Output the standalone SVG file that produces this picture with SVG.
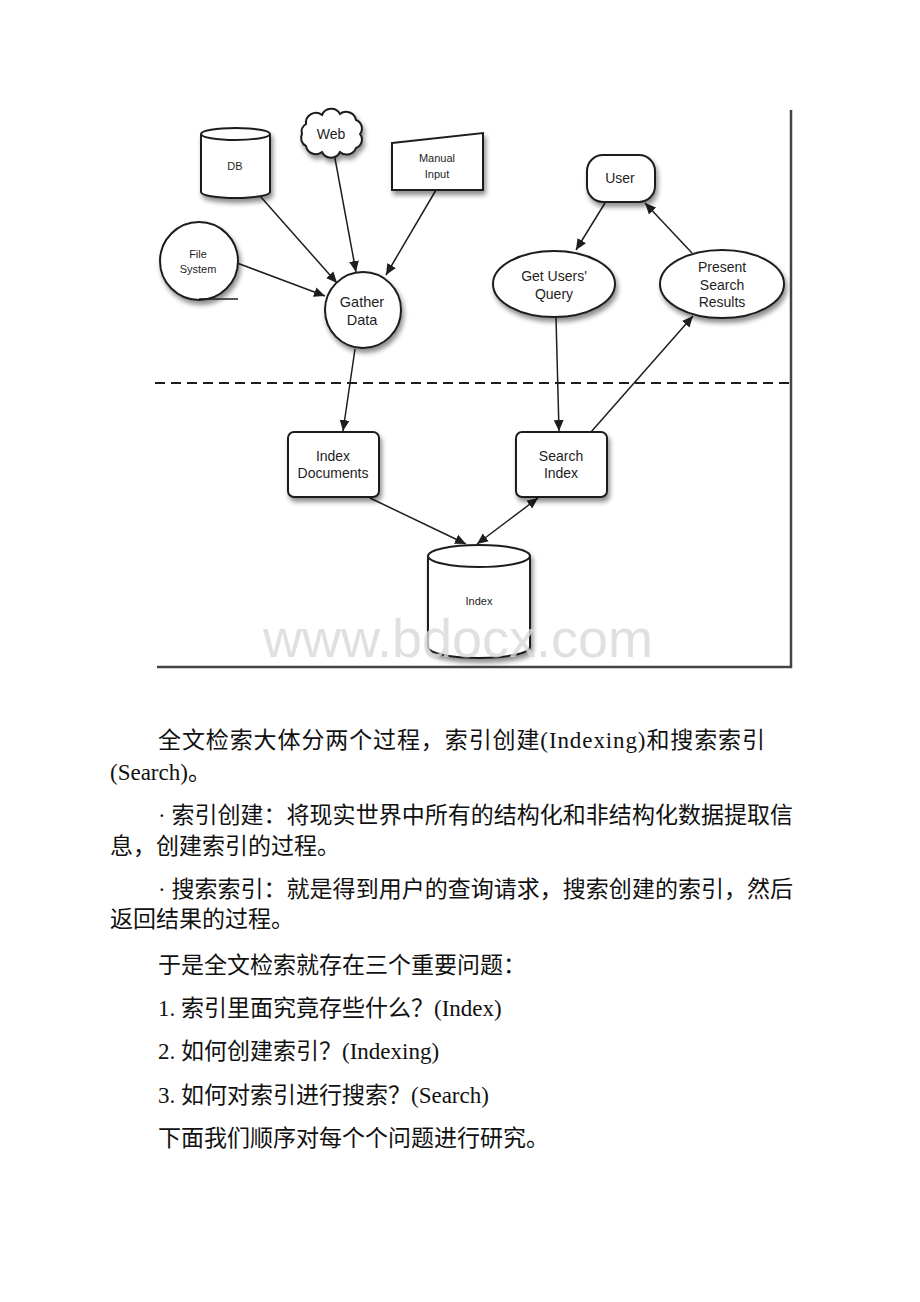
<svg xmlns="http://www.w3.org/2000/svg" width="920" height="1302" viewBox="0 0 920 1302">
<defs>
<style>
.n{fill:#fff;stroke:#1e1e1e;stroke-width:2;filter:url(#sh)}
.l{font-family:"Liberation Sans",Arial,sans-serif;fill:#1e1e1e;text-anchor:middle}
.c{stroke:#1e1e1e;stroke-width:1.5;fill:none}
.t{font-family:"Liberation Serif","Noto Sans CJK SC",serif;font-size:23px;fill:#111}
</style>
<filter id="sh" x="-30%" y="-30%" width="160%" height="160%">
<feGaussianBlur in="SourceAlpha" stdDeviation="2.5"/>
<feOffset dx="2" dy="4" result="b"/>
<feComponentTransfer><feFuncA type="linear" slope="0.45"/></feComponentTransfer>
<feMerge><feMergeNode/><feMergeNode in="SourceGraphic"/></feMerge>
</filter>
<marker id="ah" viewBox="0 0 10 10" refX="10" refY="5" markerWidth="11" markerHeight="11" markerUnits="userSpaceOnUse" orient="auto-start-reverse">
<path d="M0,0.5 L10,5 L0,9.5 z" fill="#1e1e1e"/>
</marker>
</defs>
<rect width="920" height="1302" fill="#fff"/>

<g id="frame">
<path d="M791,110 L791,667 L157,667" fill="none" stroke="#444" stroke-width="2.5"/>
<line x1="155" y1="383" x2="791" y2="383" stroke="#1e1e1e" stroke-width="1.8" stroke-dasharray="10,6"/>
</g>

<g id="connectors">
<line class="c" x1="260" y1="196" x2="337" y2="283" marker-end="url(#ah)"/>
<line class="c" x1="334" y1="153" x2="356" y2="272" marker-end="url(#ah)"/>
<line class="c" x1="436" y1="190" x2="386" y2="275" marker-end="url(#ah)"/>
<line class="c" x1="237" y1="263" x2="325" y2="296" marker-end="url(#ah)"/>
<line class="c" x1="355" y1="349" x2="343" y2="431" marker-end="url(#ah)"/>
<line class="c" x1="605" y1="203" x2="576" y2="250" marker-end="url(#ah)"/>
<line class="c" x1="692" y1="253" x2="645" y2="203" marker-end="url(#ah)"/>
<line class="c" x1="556" y1="318" x2="559" y2="431" marker-end="url(#ah)"/>
<line class="c" x1="591" y1="432" x2="693" y2="316" marker-end="url(#ah)"/>
<line class="c" x1="370" y1="498" x2="466" y2="544" marker-end="url(#ah)"/>
<line class="c" x1="538" y1="498" x2="477" y2="544" marker-start="url(#ah)" marker-end="url(#ah)"/>
</g>

<g id="db">
<path class="n" d="M201,134 A34.5,6 0 0 1 270,134 L270,192 A34.5,6 0 0 1 201,192 Z"/>
<path d="M201,134 A34.5,6 0 0 0 270,134" fill="none" stroke="#1e1e1e" stroke-width="2"/>
<text class="l" x="235" y="170" font-size="11">DB</text>
</g>

<g id="web">
<path class="n" d="M306,124 a10,10 0 0 1 16,-9 a10,10 0 0 1 18,-1 a10,10 0 0 1 16,6 a9,9 0 0 1 4,14 a9,9 0 0 1 -4,14 a10,10 0 0 1 -16,4 a10,10 0 0 1 -18,0 a10,10 0 0 1 -16,-6 a9,9 0 0 1 -4,-12 a9,9 0 0 1 4,-10 z"/>
<text class="l" x="331" y="139" font-size="14">Web</text>
</g>

<g id="manual">
<path class="n" d="M392,143 L483,133 L483,190 L392,190 Z"/>
<text class="l" x="437" y="162" font-size="11">Manual</text>
<text class="l" x="437" y="178" font-size="11">Input</text>
</g>

<g id="filesystem">
<circle class="n" cx="199" cy="261" r="39"/>
<line x1="199" y1="299" x2="238" y2="299" stroke="#1e1e1e" stroke-width="1.5"/>
<text class="l" x="198" y="258" font-size="11">File</text>
<text class="l" x="198" y="273" font-size="11">System</text>
</g>

<g id="gather">
<circle class="n" cx="363" cy="310" r="38"/>
<text class="l" x="362" y="307" font-size="14.5">Gather</text>
<text class="l" x="362" y="325" font-size="14.5">Data</text>
</g>

<g id="user">
<rect class="n" x="587" y="155" width="68" height="47" rx="16"/>
<text class="l" x="620" y="183" font-size="14">User</text>
</g>

<g id="query">
<ellipse class="n" cx="554" cy="284" rx="61" ry="33"/>
<text class="l" x="554" y="281" font-size="14">Get Users'</text>
<text class="l" x="554" y="299" font-size="14">Query</text>
</g>

<g id="present">
<ellipse class="n" cx="722" cy="284" rx="62" ry="34"/>
<text class="l" x="722" y="272" font-size="14">Present</text>
<text class="l" x="722" y="290" font-size="14">Search</text>
<text class="l" x="722" y="307" font-size="14">Results</text>
</g>

<g id="indexdocs">
<rect class="n" x="288" y="432" width="91" height="65" rx="6"/>
<text class="l" x="333" y="461" font-size="14">Index</text>
<text class="l" x="333" y="478" font-size="14">Documents</text>
</g>

<g id="searchindex">
<rect class="n" x="516" y="432" width="91" height="65" rx="6"/>
<text class="l" x="561" y="461" font-size="14">Search</text>
<text class="l" x="561" y="478" font-size="14">Index</text>
</g>

<g id="index">
<path class="n" d="M428,556 A51,11 0 0 1 530,556 L530,647 A51,11 0 0 1 428,647 Z"/>
<path d="M428,556 A51,11 0 0 0 530,556" fill="none" stroke="#1e1e1e" stroke-width="2"/>
<text class="l" x="479" y="605" font-size="11">Index</text>
</g>

<text x="458" y="657" text-anchor="middle" font-family="Liberation Sans,Arial,sans-serif" font-size="54" fill="#d8d8d8" fill-opacity="0.8">www.bdocx.com</text>

<g id="body">
<text class="t" x="158" y="748" textLength="607" lengthAdjust="spacing">全文检索大体分两个过程，索引创建(Indexing)和搜索索引</text>
<text class="t" x="110" y="780">(Search)。</text>
<text class="t" x="158" y="823" textLength="635" lengthAdjust="spacing">· 索引创建：将现实世界中所有的结构化和非结构化数据提取信</text>
<text class="t" x="110" y="854">息，创建索引的过程。</text>
<text class="t" x="158" y="897" textLength="635" lengthAdjust="spacing">· 搜索索引：就是得到用户的查询请求，搜索创建的索引，然后</text>
<text class="t" x="110" y="927">返回结果的过程。</text>
<text class="t" x="158" y="973">于是全文检索就存在三个重要问题：</text>
<text class="t" x="158" y="1016">1. 索引里面究竟存些什么？(Index)</text>
<text class="t" x="158" y="1059">2. 如何创建索引？(Indexing)</text>
<text class="t" x="158" y="1103">3. 如何对索引进行搜索？(Search)</text>
<text class="t" x="158" y="1146">下面我们顺序对每个个问题进行研究。</text>
</g>
</svg>
